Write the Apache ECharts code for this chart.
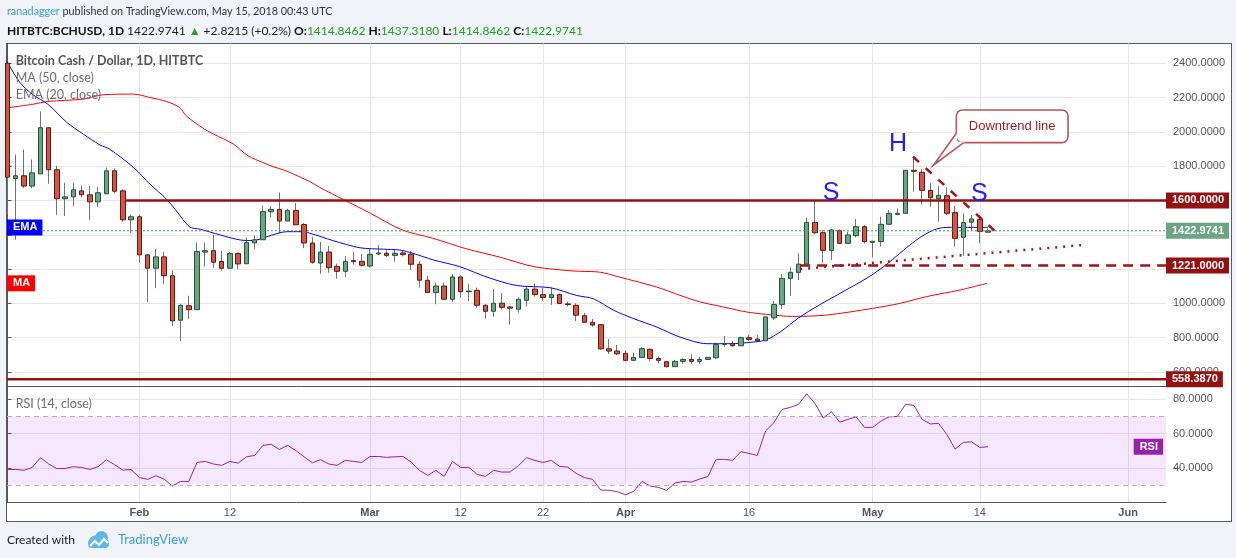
<!DOCTYPE html>
<html>
<head>
<meta charset="utf-8">
<script src="https://cdn.jsdelivr.net/npm/echarts@6/dist/echarts.min.js"></script>
<style>
  html,body{margin:0;padding:0;background:#f0f3f7;}
  #frame{position:absolute;left:6px;top:43px;width:1224px;height:477px;border:1px solid #5a5a5a;background:#fff;}
  #chart{position:absolute;left:0;top:0;width:1236px;height:558px;}
</style>
</head>
<body>
<div id="frame"></div>
<div id="chart"></div>
<script>
// daily candles, day 0 = 2018-01-16 (HITBTC BCHUSD, 1D)
const openP = [2400,1728,1744,1684,1755,2024,1779,1610,1621,1656,
  1633,1592,1639,1773,1656,1487,1505,1283,1205,1271,
  1161,902,986,963,1299,1307,1244,1205,1291,1231,
  1353,1371,1534,1548,1480,1542,1460,1352,1235,1299,
  1216,1187,1249,1245,1218,1288,1292,1280,1294,1286,
  1228,1135,1063,1101,1024,1154,1068,1076,989,954,
  1001,979,966,1018,1083,1051,1034,1051,997,989,
  928,890,876,735,722,709,668,685,732,679,
  660,631,662,673,662,673,683,761,765,753,
  800,792,782,916,994,1146,1181,1229,1472,1412,
  1309,1424,1350,1395,1447,1356,1360,1461,1519,1525,
  1776,1764,1659,1610,1628,1529,1385,1473,1490,1414.8462];
const closeP = [1736,1744,1684,1761,2024,1779,1610,1621,1662,1633,
  1592,1645,1773,1654,1487,1505,1283,1205,1271,1161,
  898,988,963,1303,1307,1240,1205,1291,1230,1355,
  1371,1536,1548,1480,1542,1458,1352,1240,1299,1208,
  1187,1245,1243,1222,1286,1294,1280,1292,1284,1228,
  1135,1063,1101,1024,1154,1068,1072,989,954,1001,
  977,972,1024,1083,1051,1034,1051,999,993,931,
  890,874,735,722,706,668,685,736,679,668,
  631,662,673,662,673,685,761,765,753,800,
  790,782,921,994,1146,1181,1229,1472,1412,1309,
  1428,1350,1399,1447,1360,1362,1461,1525,1525,1776,
  1770,1659,1616,1630,1525,1379,1471,1492,1420,1422.9741];
const lowP = [1520,1371,1672,1672,1755,1697,1516,1509,1567,1619,
  1487,1563,1639,1645,1476,1411,1235,1007,1089,1114,
  869,780,909,963,1215,1205,1192,1203,1200,1231,
  1318,1371,1503,1411,1480,1458,1322,1231,1173,1179,
  1144,1154,1224,1214,1208,1280,1270,1243,1274,1195,
  1092,1063,995,1024,1010,1033,1014,975,911,923,
  964,876,946,982,1039,1014,991,999,983,897,
  888,863,730,705,698,662,668,685,666,650,
  627,631,648,648,648,670,677,748,748,751,
  780,782,782,903,967,1043,1136,1229,1403,1239,
  1253,1346,1346,1385,1350,1268,1331,1457,1515,1525,
  1651,1577,1564,1476,1515,1331,1278,1422,1350,1414.8462];
const highP = [2410,1868,1897,1839,2119,2024,1802,1703,1701,1686,
  1684,1678,1792,1787,1666,1518,1518,1283,1318,1301,
  1192,998,1044,1355,1355,1400,1305,1299,1297,1386,
  1396,1571,1567,1647,1551,1586,1468,1386,1358,1335,
  1232,1276,1300,1288,1319,1341,1309,1315,1309,1305,
  1247,1160,1121,1121,1170,1164,1115,1092,995,1083,
  1060,985,1034,1102,1115,1092,1093,1057,1010,1001,
  944,909,878,793,758,726,713,744,738,691,
  663,671,679,702,689,689,767,809,780,806,
  819,815,924,1014,1171,1210,1292,1500,1597,1428,
  1432,1432,1418,1492,1455,1364,1505,1544,1554,1776,
  1855,1783,1700,1685,1677,1568,1525,1515,1515,1437.318];

// MA(50) and EMA(20) as (day, value)
const maDays = [-0.06,3.1,4.9,9.2,11.6,15.3,17.3,19.3,20.9,21.7,23.9,25,27.4,29.2,31,32.3,33.5,34.7,36.7,37.9,40.7,43.9,47.9,51.6,55.7,59.8,63.8,67.8,69.5,71.9,74.3,78.8,81.6,84.1,86.9,89.7,92.1,95.3,99.4,105,108.3,111.5,115.6,118.9];
const maValues = [2140,2161,2177,2191,2216,2220,2200,2177,2142,2093,2016,1987,1929,1860,1821,1796,1778,1754,1710,1676,1607,1529,1428,1380,1318,1269,1215,1192,1187,1182,1153,1095,1047,1008,979,950,936,924,932,971,1000,1039,1078,1117];
const emaDays = [-0.06,1.5,3.1,4.9,7.2,9.2,11.2,12.4,15.3,17.3,19.3,20.5,22.1,23.4,25.8,28.2,29.8,31.5,33.9,35.5,36.7,39.5,42.8,45.6,47.6,49.2,51.7,54.9,58.2,61.8,65.9,69.1,71.1,73.6,76,78.8,81.6,84.9,87.7,90.6,92.1,93.8,96,98.5,101.4,104.6,106.6,108.3,110.3,112.4,114,116.5,119];
const emaValues = [2410,2288,2216,2161,2055,1987,1924,1899,1792,1695,1607,1539,1446,1432,1399,1370,1366,1389,1418,1418,1409,1366,1324,1316,1311,1292,1253,1214,1153,1104,1091,1046,1027,959,911,862,804,765,765,775,788,834,915,990,1068,1156,1224,1292,1369,1428,1443,1443,1443];

// RSI(14), one value per candle
const rsiValues = [39.0,39.0,38.5,40.2,45.9,42.2,39.5,39.6,40.6,40.2,
  39.0,40.6,44.7,41.8,38.6,39.0,34.3,33.2,35.3,33.4,
  29.3,32.0,32.0,43.1,43.7,42.2,41.4,43.7,42.7,46.4,
  47.2,53.1,53.7,50.7,53.1,50.0,46.4,42.9,44.7,42.2,
  41.4,44.3,43.7,43.1,46.6,46.6,46.1,46.4,46.6,43.3,
  38.5,35.5,38.5,34.9,43.7,40.2,40.2,36.1,34.9,38.5,
  37.5,37.5,41.2,45.9,44.3,43.1,44.3,40.8,40.4,36.7,
  34.3,33.2,27.0,26.8,26.0,24.2,26.2,32.0,29.3,28.5,
  26.8,31.1,32.0,31.6,33.4,34.9,44.9,44.9,44.3,49.4,
  48.4,47.2,61.5,66.3,74.1,75.3,77.1,83.3,77.6,69.1,
  72.8,66.7,68.3,69.8,63.6,63.6,67.3,69.8,70.0,77.1,
  76.5,68.3,65.6,66.0,59.5,50.9,54.8,55.2,51.9,52.3];

const tickDays = [16,27,44,55,65,75,90,105,118,136];
const tickLabels = ['Feb','12','Mar','12','22','Apr','16','May','14','Jun'];
const priceTicks = [600,800,1000,1200,1400,1600,1800,2000,2200,2400];
const rsiTicks = [40,60,80];

// drawings: [startDay, startPrice, endDay, endPrice]
const resistance = [14.4,1600,140.6,1600];
const support = [-0.06,558.387,140.6,558.387];
const neckline = [96.2,1221,140.6,1221];
const risingLine = [96.2,1200,130.5,1340];
const downtrend = [109.9,1855,120.6,1389];
const lastPrice = 1422.9741;

const X_MIN = -0.06, X_MAX = 140.6;

const candles = openP.map((o,i)=>[i, o, closeP[i], lowP[i], highP[i]]);
const bodies = openP.map((o,i)=>[i, o, closeP[i], Math.min(o,closeP[i]), Math.max(o,closeP[i])]);
const seg = a => [[a[0],a[1]],[a[2],a[3]]];

const axisFont = '"Liberation Sans", Arial, sans-serif';
const gridColor = '#e6e6e6';
const darkRed = '#951010';

const chart = echarts.init(document.getElementById('chart'), null, {renderer:'canvas'});

function drawLine(name, pts, style){
  return { name, type:'line', xAxisIndex:0, yAxisIndex:0, data: seg(pts), symbol:'none', silent:true, z:4,
    lineStyle: style, clip:false };
}

const option = {
  animation:false,
  grid:[
    {left:7, right:70, top:43.5, height:343.2},
    {left:7, right:70, top:386.7, height:115.6}
  ],
  xAxis:[
    {type:'value', gridIndex:0, min:X_MIN, max:X_MAX,
      axisLine:{show:true, onZero:false, lineStyle:{color:'#555'}},
      axisTick:{show:false, customValues:tickDays},
      axisLabel:{show:false, customValues:tickDays},
      splitLine:{show:true, lineStyle:{color:gridColor}}},
    {type:'value', gridIndex:1, min:X_MIN, max:X_MAX,
      axisLine:{show:true, onZero:false, lineStyle:{color:'#555'}},
      axisTick:{show:false, customValues:tickDays},
      axisLabel:{show:true, customValues:tickDays, margin:5,
        formatter: v => { const t = tickLabels[tickDays.indexOf(v)] || ''; return /^\d/.test(t) ? '{d|'+t+'}' : '{m|'+t+'}'; },
        rich:{ m:{fontWeight:'bold', color:'#555', fontSize:11, fontFamily:axisFont}, d:{color:'#555', fontSize:11, fontFamily:axisFont} }},
      splitLine:{show:true, lineStyle:{color:gridColor}}}
  ],
  yAxis:[
    {type:'value', gridIndex:0, position:'right', min:514.3, max:2515, scale:true,
      axisLine:{show:true, lineStyle:{color:'#555'}},
      axisTick:{show:true, length:4, customValues:priceTicks, lineStyle:{color:'#555'}},
      axisLabel:{customValues:priceTicks, margin:7, color:'#555', fontSize:11, fontFamily:axisFont, formatter:v=>v.toFixed(4)},
      splitLine:{show:true, lineStyle:{color:gridColor}}},
    {type:'value', gridIndex:1, position:'right', min:19.8, max:87.4, scale:true,
      axisLine:{show:true, lineStyle:{color:'#555'}},
      axisTick:{show:true, length:4, customValues:rsiTicks, lineStyle:{color:'#555'}},
      axisLabel:{customValues:rsiTicks, margin:7, color:'#555', fontSize:11, fontFamily:axisFont, formatter:v=>v.toFixed(4)},
      splitLine:{show:true, lineStyle:{color:gridColor}}}
  ],
  series:[
    {name:'wicks', type:'candlestick', xAxisIndex:0, yAxisIndex:0, data:candles, barWidth:1, z:2,
      itemStyle:{color:'#737375', color0:'#737375', borderColor:'#737375', borderColor0:'#737375', borderColorDoji:'#737375', borderWidth:1}},
    {name:'BCHUSD', type:'candlestick', xAxisIndex:0, yAxisIndex:0, data:bodies, barWidth:5, z:3,
      itemStyle:{color:'#6ba583', color0:'#d75442', borderColor:'#225437', borderColor0:'#5b1a13', borderColorDoji:'#5b1a13', borderWidth:1}},
    {name:'MA (50, close)', type:'line', xAxisIndex:0, yAxisIndex:0, data:maDays.map((d,i)=>[d,maValues[i]]),
      symbol:'none', smooth:0.3, z:3, lineStyle:{color:'#ff0000', width:1}},
    {name:'EMA (20, close)', type:'line', xAxisIndex:0, yAxisIndex:0, data:emaDays.map((d,i)=>[d,emaValues[i]]),
      symbol:'none', smooth:0.3, z:3, lineStyle:{color:'#0000ff', width:1}},
    drawLine('last', [X_MIN,lastPrice,X_MAX,lastPrice], {color:'#3d9a62', width:1, type:[2,2]}),
    drawLine('resistance', resistance, {color:darkRed, width:2.5}),
    drawLine('support', support, {color:darkRed, width:2.5}),
    drawLine('neckline', neckline, {color:'#a01515', width:2.5, type:[10,7]}),
    drawLine('rising', risingLine, {color:'#a01515', width:2.5, type:[2,6]}),
    drawLine('downtrend', downtrend, {color:'#a01515', width:2.5, type:[8,9]}),
    {name:'RSI (14, close)', type:'line', xAxisIndex:1, yAxisIndex:1, data:rsiValues.map((v,i)=>[i,v]),
      symbol:'none', z:3, lineStyle:{color:'#9a1fab', width:1},
      markArea:{silent:true, itemStyle:{color:'rgba(153,21,255,0.1)'}, data:[[{yAxis:30},{yAxis:70}]]},
      markLine:{silent:true, symbol:'none', label:{show:false}, lineStyle:{color:'#b8aebe', type:[5,4], width:1},
        data:[{yAxis:30},{yAxis:70}]}}
  ]
};
chart.setOption(option);

const P = (g, x, y) => chart.convertToPixel({gridIndex:g}, [x, y]);

function tag(x, y, text, bg, align){
  return {type:'text', x, y, z:60, silent:true,
    style:{text, fill:'#fff', font:'bold 11px '+axisFont, backgroundColor:bg, padding:[3,5,2,6], align:align||'left', verticalAlign:'middle'}};
}
function letter(d, price, ch){
  const p = P(0, d, price);
  return {type:'text', x:p[0], y:p[1], z:60, silent:true,
    style:{text:ch, fill:'#1e1eff', font:'25px '+axisFont, align:'center', verticalAlign:'middle'}};
}

const right = P(0, X_MAX, 0)[0];
const left = P(0, X_MIN, 0)[0];
const graphics = [
  tag(right, P(0,0,1600)[1], '1600.0000', darkRed),
  tag(right, P(0,0,lastPrice)[1], lastPrice.toFixed(4), '#6ba583'),
  tag(right, P(0,0,1221)[1], '1221.0000', darkRed),
  tag(right, P(0,0,558.387)[1], '558.3870', darkRed),
  tag(left, P(0,0,emaValues[emaValues.length-1])[1], 'EMA', '#0000ff'),
  tag(left, P(0,0,maValues[maValues.length-1])[1], 'MA', '#ff0000'),
  tag(P(1,X_MAX,0)[0]-3, P(1,0,rsiValues[rsiValues.length-1])[1], 'RSI', '#9a1fab', 'right'),
  letter(108.07, 1929, 'H'),
  letter(99.94, 1644, 'S'),
  letter(117.96, 1638, 'S')
];

// callout for the downtrend line, anchored at its pointer tip
const tip = P(0, 112.4, 1807);
const bx = tip[0]+22.7, by = tip[1]-55, bw = 111.7, bh = 32.7;
graphics.push(
  {type:'rect', z:61, silent:true, shape:{x:bx, y:by, width:bw, height:bh, r:6}, style:{fill:'#fff', stroke:'#b9545a', lineWidth:1.6}},
  {type:'polygon', z:62, silent:true, shape:{points:[[bx+1, tip[1]-33], tip, [bx+9, by+bh-1], [bx+1, by+bh-1]]}, style:{fill:'#fff'}},
  {type:'polyline', z:63, silent:true, shape:{points:[[bx, tip[1]-31.7], tip, [bx+7.3, by+bh]]}, style:{stroke:'#b9545a', lineWidth:1.6, fill:null}},
  {type:'text', z:64, silent:true, x:bx+bw/2, y:by+bh/2, style:{text:'Downtrend line', fill:'#a51c1c', font:'13px '+axisFont, align:'center', verticalAlign:'middle'}}
);

// header, legend, footer
const uiFont = 'Lato, "Open Sans", sans-serif';
graphics.push(
  {type:'text', x:7, y:12, z:70, silent:true, style:{
    text:'{u|ranadagger} {t|published on TradingView.com, May 15, 2018 00:43 UTC}',
    verticalAlign:'middle', font:'10.8px '+uiFont,
    rich:{u:{fill:'#3a9fdc', fontSize:10.8, fontFamily:uiFont}, t:{fill:'#333', fontSize:10.8, fontFamily:uiFont}}}},
  {type:'text', x:7, y:31, z:70, silent:true, style:{
    text:'{b|HITBTC:BCHUSD, 1D} {n|1422.9741} {g|▲} {n|+2.8215 (+0.2%)} {b|O:}{g|1414.8462} {b|H:}{g|1437.3180} {b|L:}{g|1414.8462} {b|C:}{g|1422.9741}',
    verticalAlign:'middle', font:'12px '+uiFont,
    rich:{b:{fill:'#111', fontWeight:'bold', fontSize:12, fontFamily:uiFont}, n:{fill:'#222', fontSize:12, fontFamily:uiFont}, g:{fill:'#22a022', fontSize:12, fontFamily:uiFont}}}},
  {type:'text', x:15.7, y:61, z:70, silent:true, style:{text:'Bitcoin Cash / Dollar, 1D, HITBTC', fill:'#555', font:'bold 12.5px '+uiFont, verticalAlign:'middle'}},
  {type:'text', x:15.7, y:78, z:70, silent:true, style:{text:'MA (50, close)', fill:'#6f6f6f', font:'12.5px '+uiFont, verticalAlign:'middle'}},
  {type:'text', x:15.7, y:95, z:70, silent:true, style:{text:'EMA (20, close)', fill:'#6f6f6f', font:'12.5px '+uiFont, verticalAlign:'middle'}},
  {type:'text', x:15.7, y:404, z:70, silent:true, style:{text:'RSI (14, close)', fill:'#6f6f6f', font:'12.5px '+uiFont, verticalAlign:'middle'}},
  {type:'text', x:7, y:540, z:70, silent:true, style:{text:'Created with', fill:'#222', font:'12px '+uiFont, verticalAlign:'middle'}},
  {type:'circle', z:70, silent:true, shape:{cx:95, cy:541, r:5.5}, style:{fill:'#5cb8e6'}},
  {type:'circle', z:70, silent:true, shape:{cx:101.5, cy:537.5, r:6.5}, style:{fill:'#5cb8e6'}},
  {type:'rect', z:70, silent:true, shape:{x:88, y:539, width:21, height:9, r:4}, style:{fill:'#5cb8e6'}},
  {type:'polyline', z:71, silent:true, shape:{points:[[90,546],[95,541],[99,545],[104,539],[108,543]]}, style:{stroke:'#fff', lineWidth:2, fill:null}},
  {type:'text', x:118, y:540, z:70, silent:true, style:{text:'TradingView', fill:'#3aa0dc', font:'13px '+uiFont, verticalAlign:'middle'}}
);

chart.setOption({graphic:graphics});
</script>
</body>
</html>
